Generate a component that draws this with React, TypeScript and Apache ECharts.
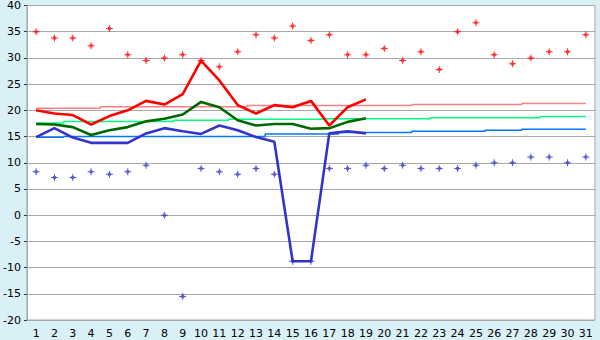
import React, { useEffect, useRef } from "react";
import * as echarts from "echarts";

const days = ["1","2","3","4","5","6","7","8","9","10","11","12","13","14","15","16","17","18","19","20","21","22","23","24","25","26","27","28","29","30","31"];

const maxTemp = [35.0,33.8,33.8,32.3,35.6,30.6,29.5,30.0,30.6,29.5,28.3,31.2,34.4,33.8,36.1,33.3,34.4,30.6,30.6,31.8,29.5,31.2,27.8,35.0,36.7,30.6,28.9,30.0,31.2,31.2,34.4];
const minTemp = [8.3,7.2,7.2,8.3,7.8,8.3,9.5,0.0,-15.5,8.9,8.3,7.8,8.9,7.8,-8.8,-8.8,8.9,8.9,9.5,8.9,9.5,8.9,8.9,8.9,9.5,10.0,10.0,11.1,11.1,10.0,11.1];

const redLine = [20.0,19.4,19.1,17.3,18.9,20.0,21.8,21.1,23.1,29.5,25.7,21.0,19.4,21.0,20.6,21.8,17.1,20.6,22.1,null,null,null,null,null,null,null,null,null,null,null,null];
const greenLine = [17.4,17.3,16.8,15.3,16.2,16.8,17.9,18.4,19.2,21.6,20.6,18.1,17.1,17.4,17.4,16.5,16.6,17.8,18.5,null,null,null,null,null,null,null,null,null,null,null,null];
const blueLine = [14.9,16.6,14.8,13.8,13.8,13.8,15.6,16.6,16.0,15.5,17.1,16.2,14.9,14.0,-8.8,-8.8,15.6,16.0,15.6,null,null,null,null,null,null,null,null,null,null,null,null];

const normMax = [20.4,20.4,20.4,20.4,20.7,20.7,20.7,20.7,20.7,20.7,20.7,20.7,20.9,20.9,20.9,20.9,20.9,20.9,20.9,20.9,20.9,21.1,21.1,21.1,21.1,21.1,21.1,21.3,21.3,21.3,21.3];
const normMean = [17.6,17.6,17.85,17.85,17.85,17.85,17.85,17.85,18.1,18.1,18.1,18.3,18.3,18.3,18.3,18.3,18.4,18.4,18.4,18.4,18.4,18.4,18.6,18.6,18.6,18.6,18.6,18.6,18.8,18.8,18.8];
const normMin = [14.85,14.85,15.0,15.0,15.0,15.0,15.0,15.0,15.0,15.0,15.0,15.0,15.0,15.5,15.5,15.5,15.5,15.75,15.75,15.75,15.75,16.0,16.0,16.0,16.0,16.2,16.2,16.4,16.4,16.4,16.4];

const plus = "path://M3,0H4V2H5V3H7V4H5V5H4V7H3V5H2V4H0V3H2V2H3Z";

export default function App() {
  const ref = useRef<HTMLDivElement>(null);
  useEffect(() => {
    document.body.style.margin = "0";
    const chart = echarts.init(ref.current!, null, { renderer: "svg" });
    const stepLine = (data: number[], color: string) => ({
      type: "line",
      data,
      step: "middle",
      symbol: "none",
      lineStyle: { color, width: 1.5 },
      z: 2,
    });
    const mainLine = (data: (number | null)[], color: string) => ({
      type: "line",
      data,
      symbol: "none",
      lineStyle: { color, width: 2.6 },
      z: 3,
    });
    const scatter = (data: number[], color: string) => ({
      type: "scatter",
      data,
      symbol: plus,
      symbolSize: 7,
      itemStyle: { color },
      z: 4,
    });
    chart.setOption({
      animation: false,
      backgroundColor: "#D9F0F7",
      textStyle: { fontFamily: "DejaVu Sans" },
      grid: {
        left: 26,
        right: 5,
        top: 5,
        bottom: 20,
        show: true,
        backgroundColor: "#FFFFFF",
        borderColor: "#A8A8A8",
        borderWidth: 1,
      },
      xAxis: {
        type: "category",
        data: days,
        boundaryGap: true,
        axisLine: { lineStyle: { color: "#A8A8A8", width: 1 } },
        axisTick: { alignWithLabel: true, length: 5, lineStyle: { color: "#333" } },
        axisLabel: { color: "#000", fontSize: 11, margin: 8, interval: 0 },
        splitLine: { show: false },
      },
      yAxis: {
        type: "value",
        min: -20,
        max: 40,
        interval: 5,
        axisLine: { show: true, lineStyle: { color: "#A8A8A8", width: 1 } },
        axisTick: { show: true, length: 3, lineStyle: { color: "#333" } },
        axisLabel: { color: "#000", fontSize: 11, margin: 6 },
        splitLine: { lineStyle: { color: "#A8A8A8", width: 1 } },
      },
      series: [
        stepLine(normMax, "#FF8080"),
        stepLine(normMean, "#00FF80"),
        stepLine(normMin, "#0077FF"),
        mainLine(redLine, "#FF0000"),
        mainLine(greenLine, "#006600"),
        mainLine(blueLine, "#3333CC"),
        scatter(maxTemp, "#FF0000"),
        scatter(minTemp, "#3333CC"),
      ],
    });
    return () => chart.dispose();
  }, []);
  return <div ref={ref} style={{ width: 600, height: 340 }} />;
}
